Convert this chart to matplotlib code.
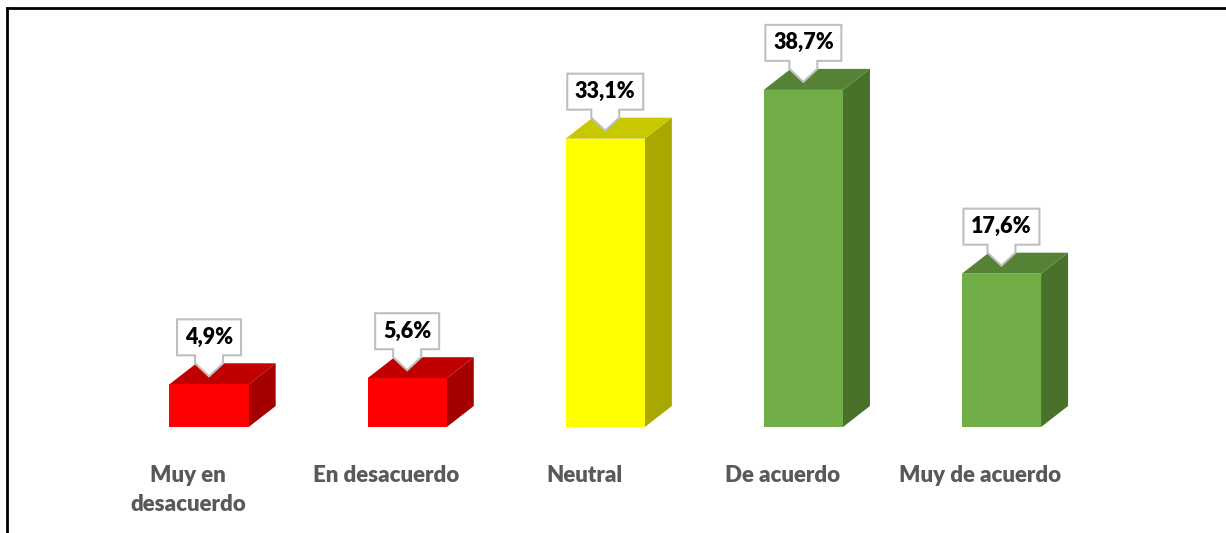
import matplotlib.pyplot as plt
import matplotlib.transforms as mtransforms
from matplotlib.patches import Polygon
from matplotlib.lines import Line2D

categories = ['Muy en\ndesacuerdo', 'En desacuerdo', 'Neutral', 'De acuerdo', 'Muy de acuerdo']
values = [4.9, 5.6, 33.1, 38.7, 17.6]
value_labels = ['4,9%', '5,6%', '33,1%', '38,7%', '17,6%']

front_colors = ['#FF0000', '#FF0000', '#FFFF00', '#70AD47', '#70AD47']
top_colors = ['#C00000', '#C00000', '#C8C800', '#558235', '#558235']
side_colors = ['#A50000', '#A50000', '#A8A800', '#4A7129', '#4A7129']

plt.rcParams['font.family'] = ['Lato', 'DejaVu Sans']

W, H = 1226, 533
fig = plt.figure(figsize=(W / 100, H / 100), dpi=100)
ax = fig.add_axes([110 / W, 106 / H, 990.5 / W, 392 / H])
ax.set_xlim(-0.5, 4.5)
ax.set_ylim(0, 45)
ax.axis('off')

# depth of the fake 3d bars, px -> data units
px_x = 5 / 990.5
px_y = 45 / 392
bar_w = 0.4
dx = 27 * px_x
dy = 21 * px_y

x = list(range(len(values)))
ax.bar(x, values, width=bar_w, color=front_colors, zorder=2)

for i, v in zip(x, values):
    r = i + bar_w / 2
    l = i - bar_w / 2
    side = Polygon([(r, 0), (r + dx, dy), (r + dx, v + dy), (r, v)],
                   closed=True, facecolor=side_colors[i], edgecolor='none', zorder=1)
    top = Polygon([(l, v), (r, v), (r + dx, v + dy), (l + dx, v + dy)],
                  closed=True, facecolor=top_colors[i], edgecolor='none', zorder=1)
    ax.add_patch(side)
    ax.add_patch(top)

    # callout box with arrow pointing down to the bar (shape in pixels)
    lab = value_labels[i]
    hw = (12 * len(lab) + 16) / 2
    lift = 8
    shape = [(0, lift), (14, lift + 13), (14, lift + 21), (hw, lift + 21), (hw, lift + 57),
             (-hw, lift + 57), (-hw, lift + 21), (-14, lift + 21), (-14, lift + 13)]
    tr = (mtransforms.Affine2D().scale(1 / 100) + fig.dpi_scale_trans
          + mtransforms.ScaledTranslation(i, v, ax.transData))
    call = Polygon(shape, closed=True, facecolor='white', edgecolor='#BFBFBF',
                   lw=1.5, transform=tr, clip_on=False, zorder=3)
    ax.add_patch(call)
    ax.annotate(lab, xy=(i, v), xytext=(0, (lift + 39) * 0.72), textcoords='offset points',
                ha='center', va='center', fontsize=15.5, fontweight='heavy',
                color='black', zorder=4, annotation_clip=False)

    ax.annotate(categories[i], xy=(i, 0), xytext=(-21 * 0.72, -38 * 0.72),
                textcoords='offset points', ha='center', va='top', color='#595959',
                fontsize=16, fontweight='heavy', linespacing=1.45, annotation_clip=False)

# frame lines on top and left
fig.add_artist(Line2D([7 / W, 1], [1 - 7.5 / H, 1 - 7.5 / H], color='black', lw=2,
                      transform=fig.transFigure))
fig.add_artist(Line2D([7 / W, 7 / W], [0, 1 - 7.5 / H], color='black', lw=2,
                      transform=fig.transFigure))

fig.savefig('out.png', dpi=100)
